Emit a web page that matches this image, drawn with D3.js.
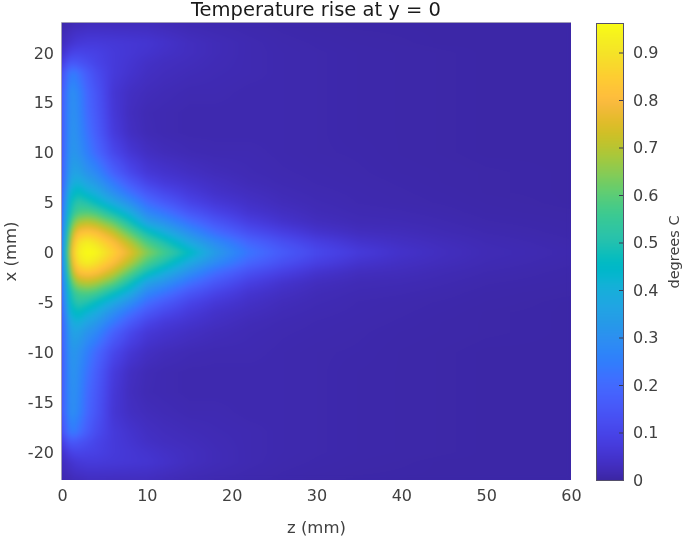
<!DOCTYPE html>
<html>
<head>
<meta charset="utf-8">
<script src="https://cdn.jsdelivr.net/npm/d3@7"></script>
<style>
  html, body { margin: 0; padding: 0; background: #fff; }
  #chart { position: relative; width: 685px; height: 540px; overflow: hidden; }
  canvas, svg { position: absolute; left: 0; top: 0; }
  text { font-family: "DejaVu Sans", sans-serif; }
</style>
</head>
<body>
<div id="chart"></div>
<script>
"use strict";

// z positions of the table columns (mm)
const zValues = [0, 0.5, 1, 1.5, 2, 3, 4, 6, 8, 10, 12, 15, 18, 22, 26, 30, 35, 40, 45, 50, 60];

// |x| positions of the table rows (mm), the picture is mirrored about x = 0
const xValues = [0, 1, 2, 3, 4, 5, 6, 7, 8, 10, 12, 14, 16, 18, 19, 20, 21, 23];

// Temperature rise, one row per |x|, one column per z
const rise = [
  [.22, .50, .74, .87, .93, .96, .95, .86, .76, .65, .57, .46, .34, .23, .16, .11, .07, .045, .03, .02, .012],
  [.21, .47, .70, .83, .90, .93, .90, .81, .70, .58, .50, .38, .29, .19, .13, .085, .05, .035, .025, .017, .01],
  [.20, .44, .64, .75, .81, .83, .81, .72, .60, .48, .40, .30, .21, .13, .085, .05, .03, .025, .018, .013, .008],
  [.19, .40, .56, .65, .69, .71, .69, .61, .49, .36, .31, .22, .15, .085, .05, .03, .02, .018, .014, .01, .007],
  [.18, .37, .49, .55, .58, .59, .57, .48, .39, .28, .23, .15, .10, .055, .035, .022, .016, .014, .011, .008, .006],
  [.17, .34, .46, .50, .52, .50, .46, .38, .30, .21, .16, .10, .065, .04, .025, .018, .013, .011, .009, .007, .005],
  [.16, .31, .42, .45, .46, .42, .39, .30, .22, .15, .11, .07, .045, .03, .02, .015, .012, .01, .008, .006, .005],
  [.15, .28, .37, .40, .40, .36, .33, .24, .16, .10, .07, .05, .035, .022, .016, .013, .011, .009, .007, .006, .005],
  [.15, .26, .34, .36, .35, .31, .28, .18, .11, .065, .05, .035, .025, .018, .014, .012, .01, .008, .007, .006, .005],
  [.14, .25, .31, .32, .30, .25, .20, .11, .06, .035, .025, .018, .015, .015, .012, .01, .009, .007, .006, .005, .005],
  [.14, .24, .30, .31, .28, .22, .17, .075, .035, .02, .015, .012, .012, .012, .012, .01, .008, .007, .006, .005, .005],
  [.14, .24, .29, .30, .27, .20, .155, .065, .03, .018, .015, .012, .012, .012, .012, .01, .008, .007, .006, .005, .005],
  [.14, .23, .29, .29, .26, .19, .145, .06, .035, .025, .02, .015, .015, .012, .012, .01, .008, .007, .006, .005, .005],
  [.11, .19, .23, .24, .21, .16, .12, .07, .05, .035, .028, .022, .018, .015, .012, .01, .008, .007, .006, .005, .005],
  [.07, .12, .15, .15, .14, .12, .10, .07, .055, .04, .032, .026, .02, .015, .012, .01, .008, .007, .006, .005, .005],
  [.04, .07, .09, .10, .10, .095, .09, .07, .06, .05, .04, .03, .022, .015, .012, .01, .008, .007, .006, .005, .005],
  [.025, .04, .05, .06, .065, .07, .07, .065, .06, .055, .045, .03, .022, .015, .011, .009, .007, .006, .005, .005, .005],
  [.008, .012, .015, .02, .02, .025, .025, .025, .025, .025, .02, .015, .012, .01, .008, .006, .005, .005, .005, .005, .005]
];

// Colormap stops, even steps from 0 to the top of the colorbar
const parula = [
  "#3b26a2", "#3f2ab2", "#422ebf", "#4332cb", "#4537d5", "#463cde", "#4741e5", "#4747eb",
  "#484df0", "#4752f4", "#4758f8", "#465dfb", "#4563fd", "#4269fe", "#3e6fff", "#3875fe",
  "#327cfc", "#2f81fa", "#2d87f7", "#2d8cf3", "#2b91ef", "#2796eb", "#259be7", "#23a0e5",
  "#20a5e3", "#1ca9df", "#18addb", "#12b1d6", "#08b5d0", "#01b7ca", "#02bac3", "#0bbdbc",
  "#18bfb5", "#24c1ae", "#2cc3a7", "#31c69f", "#37c897", "#3fca8e", "#4acb84", "#57cc7a",
  "#64cd6f", "#71cc64", "#81cc59", "#8fca4e", "#9dc943", "#abc739", "#b9c431", "#c5c22a",
  "#d1bf27", "#dcbd29", "#e6bb2d", "#efba36", "#f8ba3d", "#febe3c", "#fec338", "#fec934",
  "#fccf30", "#f9d62d", "#f7dc2a", "#f5e327", "#f5e924", "#f5ef20", "#f7f51b", "#f9fb15"
];

const xTicks = [-20, -15, -10, -5, 0, 5, 10, 15, 20];
const zTicks = [0, 10, 20, 30, 40, 50, 60];
const colorTicks = [0, 0.1, 0.2, 0.3, 0.4, 0.5, 0.6, 0.7, 0.8, 0.9];

const width = 685;
const height = 540;
const colorMax = 0.96;
const textColor = "#404040";

const plot = {left: 62, right: 571, top: 23, bottom: 480};
const bar = {left: 597, right: 623, top: 24, bottom: 480};

const zScale = d3.scaleLinear().domain([0, 60]).range([plot.left, plot.right]);
const xScale = d3.scaleLinear().domain([-22.8, 23]).range([plot.bottom, plot.top]);
const barScale = d3.scaleLinear().domain([0, colorMax]).range([bar.bottom, bar.top]);

const colorScale = d3.scaleLinear()
    .domain(parula.map((d, i) => i / (parula.length - 1) * colorMax))
    .range(parula)
    .clamp(true);

const chart = d3.select("#chart");

drawHeatmap();
drawAxes();

// Look up a value in the table the way an interpolated image would
function riseAt(z, x) {
  const ax = Math.min(Math.abs(x), 23);
  const zi = Math.min(d3.bisectRight(zValues, z) - 1, zValues.length - 2);
  const xi = Math.min(d3.bisectRight(xValues, ax) - 1, xValues.length - 2);
  const tz = (z - zValues[zi]) / (zValues[zi + 1] - zValues[zi]);
  const tx = (ax - xValues[xi]) / (xValues[xi + 1] - xValues[xi]);
  const top = rise[xi][zi] * (1 - tz) + rise[xi][zi + 1] * tz;
  const low = rise[xi + 1][zi] * (1 - tz) + rise[xi + 1][zi + 1] * tz;
  return top * (1 - tx) + low * tx;
}

function drawHeatmap() {
  const canvas = chart.append("canvas")
      .attr("width", width)
      .attr("height", height);
  const ctx = canvas.node().getContext("2d");

  // Paint to a scratch canvas first so it can be softened
  const scratch = document.createElement("canvas");
  scratch.width = plot.right - plot.left;
  scratch.height = plot.bottom - plot.top;
  const sctx = scratch.getContext("2d");
  for (let py = 0; py < scratch.height; py++) {
    for (let px = 0; px < scratch.width; px++) {
      const z = zScale.invert(plot.left + px + 0.5);
      const x = xScale.invert(plot.top + py + 0.5);
      sctx.fillStyle = colorScale(riseAt(z, x));
      sctx.fillRect(px, py, 1, 1);
    }
  }

  // Blur bleeds transparent in at the edges, so lay the sharp copy underneath
  ctx.save();
  ctx.beginPath();
  ctx.rect(plot.left, plot.top, scratch.width, scratch.height);
  ctx.clip();
  ctx.drawImage(scratch, plot.left, plot.top);
  ctx.filter = "blur(2px)";
  ctx.drawImage(scratch, plot.left, plot.top);
  ctx.restore();

  // Colorbar
  for (let py = bar.top; py < bar.bottom; py++) {
    ctx.fillStyle = colorScale(barScale.invert(py + 0.5));
    ctx.fillRect(bar.left, py, bar.right - bar.left, 1);
  }
}

function drawAxes() {
  const svg = chart.append("svg")
      .attr("width", width)
      .attr("height", height);

  // Only the left and top edges of the image show a line
  svg.append("path")
      .attr("d", d3.line()([[plot.left - 0.5, plot.bottom], [plot.left - 0.5, plot.top - 0.5], [plot.right, plot.top - 0.5]]))
      .attr("fill", "none")
      .attr("stroke", "#a09db8");

  const xAxis = svg.append("g")
      .attr("transform", "translate(" + plot.left + ",0)")
      .call(d3.axisLeft(xScale).tickValues(xTicks).tickSize(0).tickPadding(8).tickFormat(String));

  const zAxis = svg.append("g")
      .attr("transform", "translate(0," + plot.bottom + ")")
      .call(d3.axisBottom(zScale).tickValues(zTicks).tickSize(0).tickPadding(10).tickFormat(String));

  const barAxis = svg.append("g")
      .attr("transform", "translate(" + bar.right + ",0)")
      .call(d3.axisRight(barScale).tickValues(colorTicks).tickSize(-4).tickPadding(10).tickFormat(String));

  [xAxis, zAxis, barAxis].forEach(axis => {
    axis.select(".domain").remove();
    axis.selectAll("text")
        .attr("fill", textColor)
        .style("font-size", "16px");
    axis.selectAll("line").attr("stroke", "#3a3a50");
  });

  svg.append("rect")
      .attr("x", bar.left - 0.5)
      .attr("y", bar.top - 0.5)
      .attr("width", bar.right - bar.left + 1)
      .attr("height", bar.bottom - bar.top + 1)
      .attr("fill", "none")
      .attr("stroke", "#55506a");

  svg.append("text")
      .attr("x", (plot.left + plot.right) / 2 - 0.5)
      .attr("y", 16)
      .attr("text-anchor", "middle")
      .attr("fill", "#1a1a1a")
      .style("font-size", "19.5px")
      .text("Temperature rise at y = 0");

  svg.append("text")
      .attr("x", (plot.left + plot.right) / 2)
      .attr("y", 533)
      .attr("text-anchor", "middle")
      .attr("fill", textColor)
      .style("font-size", "16.5px")
      .text("z (mm)");

  svg.append("text")
      .attr("transform", "translate(16," + ((plot.top + plot.bottom) / 2) + ") rotate(-90)")
      .attr("text-anchor", "middle")
      .attr("fill", textColor)
      .style("font-size", "16.5px")
      .text("x (mm)");

  svg.append("text")
      .attr("transform", "translate(679," + ((bar.top + bar.bottom) / 2) + ") rotate(-90)")
      .attr("text-anchor", "middle")
      .attr("fill", textColor)
      .style("font-size", "14.5px")
      .text("degrees C");
}
</script>
</body>
</html>
